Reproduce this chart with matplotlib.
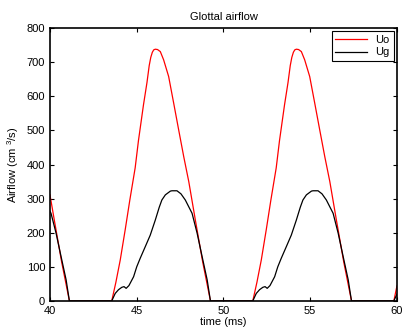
import matplotlib.pyplot as plt
import numpy as np

plt.rcParams['font.family'] = ['Liberation Sans', 'DejaVu Sans']
plt.rcParams['mathtext.fontset'] = 'custom'
plt.rcParams['mathtext.rm'] = 'Liberation Sans'

# Uo (rojo) - flujo en la salida
t_uo = [40.00, 40.25, 40.67, 41.12,
        43.56, 43.80, 44.05, 44.34, 44.60, 44.91, 45.10, 45.39, 45.59, 45.72,
        45.81, 45.90, 45.98, 46.07, 46.20, 46.36, 46.55, 46.84, 47.13, 47.42,
        47.71, 48.00, 48.38, 48.80, 49.25,
        51.69, 51.93, 52.18, 52.47, 52.73, 53.04, 53.23, 53.52, 53.72, 53.85,
        53.94, 54.03, 54.11, 54.20, 54.33, 54.49, 54.68, 54.97, 55.26, 55.55,
        55.84, 56.13, 56.51, 56.93, 57.38,
        59.82, 60.00]
uo = [311, 237, 115, 0,
      0, 55, 120, 210, 295, 390, 470, 575, 640, 690,
      714, 729, 736, 738, 737, 731, 707, 658, 580, 501,
      423, 350, 237, 115, 0,
      0, 55, 120, 210, 295, 390, 470, 575, 640, 690,
      714, 729, 736, 738, 737, 731, 707, 658, 580, 501,
      423, 350, 237, 115, 0,
      0, 44]

# Ug (negro) - flujo glotal
t_ug = [40.00, 40.06, 40.35, 40.64, 40.93, 41.12,
        43.56, 43.76, 43.95, 44.14, 44.27, 44.39, 44.55, 44.82, 45.00, 45.20,
        45.50, 45.78, 46.07, 46.30, 46.45, 46.65, 46.94, 47.03, 47.32, 47.55,
        47.80, 48.19, 48.48, 48.77, 49.06, 49.25,
        51.69, 51.89, 52.08, 52.27, 52.40, 52.52, 52.68, 52.95, 53.13, 53.33,
        53.63, 53.91, 54.20, 54.43, 54.58, 54.78, 55.07, 55.16, 55.45, 55.68,
        55.93, 56.32, 56.61, 56.90, 57.19, 57.38,
        59.82, 60.00]
ug = [263, 257, 199, 130, 62, 0,
      0, 22, 33, 40, 42, 37, 45, 71, 100, 125,
      160, 193, 237, 275, 296, 311, 322, 323, 323, 314,
      296, 257, 199, 130, 62, 0,
      0, 22, 33, 40, 42, 37, 45, 71, 100, 125,
      160, 193, 237, 275, 296, 311, 322, 323, 323, 314,
      296, 257, 199, 130, 62, 0,
      0, 20]

fig = plt.figure(figsize=(4.03, 3.30), dpi=100)
ax = fig.add_axes([0.124, 0.088, 0.861, 0.827])

ax.plot(t_uo, uo, color='red', linewidth=0.9, label='Uo')
ax.plot(t_ug, ug, color='black', linewidth=0.9, label='Ug')

ax.set_xlim(40, 60)
ax.set_ylim(0, 800)
ax.set_xticks(np.arange(40, 61, 5))
ax.set_yticks(np.arange(0, 801, 100))
ax.tick_params(direction='in', top=True, right=True, labelsize=8, length=3, width=0.8)
for s in ax.spines.values():
    s.set_linewidth(1.2)

ax.set_title('Glottal airflow', fontsize=8)
ax.set_xlabel('time (ms)', fontsize=8, labelpad=1)
ax.set_ylabel('Airflow (cm $^{3}$/s)', fontsize=8, labelpad=4)

leg = ax.legend(loc='upper right', fontsize=8, fancybox=False, framealpha=1,
                edgecolor='black', handlelength=2.8, borderpad=0.35,
                labelspacing=0.2, borderaxespad=0.3)
leg.get_frame().set_linewidth(0.8)

fig.savefig('out.png', dpi=100)
